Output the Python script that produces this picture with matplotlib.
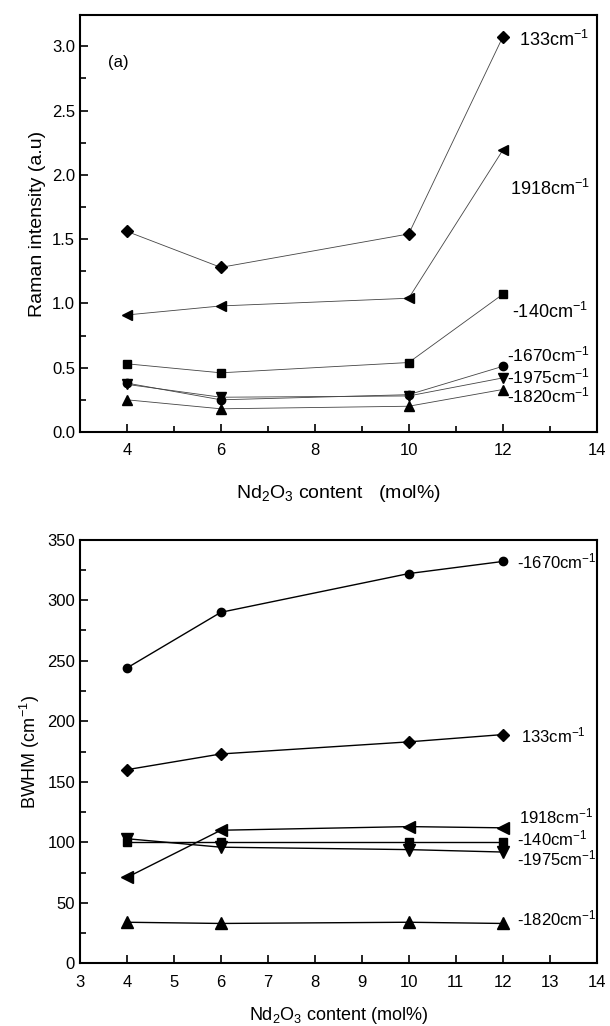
import matplotlib
matplotlib.use("Agg")
import matplotlib.pyplot as plt
from matplotlib.ticker import MultipleLocator

plt.rcParams['font.family'] = ['Liberation Sans', 'DejaVu Sans']
plt.rcParams['mathtext.fontset'] = 'custom'
plt.rcParams['mathtext.rm'] = 'Liberation Sans'
plt.rcParams['mathtext.it'] = 'Liberation Sans'
plt.rcParams['mathtext.default'] = 'rm'

x = [4, 6, 10, 12]

# (a) Raman intensity
int_133 = [1.56, 1.28, 1.54, 3.07]
int_1918 = [0.91, 0.98, 1.04, 2.19]
int_140 = [0.53, 0.46, 0.54, 1.07]
int_1670 = [0.38, 0.25, 0.29, 0.51]
int_1975 = [0.37, 0.27, 0.28, 0.42]
int_1820 = [0.25, 0.18, 0.20, 0.33]

# (b) BWHM
bw_1670 = [244, 290, 322, 332]
bw_133 = [160, 173, 183, 189]
bw_1918 = [71, 110, 113, 112]
bw_140 = [100, 100, 100, 100]
bw_1975 = [103, 96, 94, 92]
bw_1820 = [34, 33, 34, 33]

fig = plt.figure(figsize=(6.1, 10.26), dpi=100)
ax1 = fig.add_axes([0.131, 0.579, 0.847, 0.406])
ax2 = fig.add_axes([0.131, 0.061, 0.847, 0.413])

# top panel: thin grey lines
lw1 = 0.6
ax1.plot(x, int_133, color='#444444', lw=lw1, marker='D', ms=6, mfc='k', mec='k')
ax1.plot(x, int_1918, color='#444444', lw=lw1, marker='<', ms=7, mfc='k', mec='k')
ax1.plot(x, int_140, color='#444444', lw=lw1, marker='s', ms=6, mfc='k', mec='k')
ax1.plot(x, int_1670, color='#444444', lw=lw1, marker='o', ms=6, mfc='k', mec='k')
ax1.plot(x, int_1975, color='#444444', lw=lw1, marker='v', ms=7, mfc='k', mec='k')
ax1.plot(x, int_1820, color='#444444', lw=lw1, marker='^', ms=7, mfc='k', mec='k')

fs = 13
ax1.text(12.35, 3.05, '133cm$^{-1}$', fontsize=fs, va='center')
ax1.text(12.15, 1.89, '1918cm$^{-1}$', fontsize=fs, va='center')
ax1.text(12.2, 0.93, '-140cm$^{-1}$', fontsize=fs, va='center')
ax1.text(12.1, 0.60, '-1670cm$^{-1}$', fontsize=12.5, va='center')
ax1.text(12.1, 0.435, '-1975cm$^{-1}$', fontsize=12.5, va='center')
ax1.text(12.1, 0.285, '-1820cm$^{-1}$', fontsize=12.5, va='center')
ax1.text(3.6, 2.87, '(a)', fontsize=12, va='center')

ax1.set_xlim(3, 14)
ax1.set_ylim(0, 3.24)
ax1.xaxis.set_major_locator(MultipleLocator(2))
ax1.xaxis.set_minor_locator(MultipleLocator(1))
ax1.yaxis.set_major_locator(MultipleLocator(0.5))
ax1.yaxis.set_minor_locator(MultipleLocator(0.25))
ax1.yaxis.set_major_formatter(plt.FormatStrFormatter('%.1f'))
ax1.set_ylabel('Raman intensity (a.u)', fontsize=14)
ax1.set_xlabel('Nd$_2$O$_3$ content   (mol%)', fontsize=14, labelpad=18)

# bottom panel
lw2 = 1.0
ax2.plot(x, bw_1670, color='k', lw=lw2, marker='o', ms=6)
ax2.plot(x, bw_133, color='k', lw=lw2, marker='D', ms=6)
ax2.plot(x, bw_1918, color='k', lw=lw2, marker='<', ms=8)
ax2.plot(x, bw_140, color='k', lw=lw2, marker='s', ms=6)
ax2.plot(x, bw_1975, color='k', lw=lw2, marker='v', ms=8)
ax2.plot(x, bw_1820, color='k', lw=lw2, marker='^', ms=8)

fs2 = 12
ax2.text(12.3, 332, '-1670cm$^{-1}$', fontsize=fs2, va='center')
ax2.text(12.4, 188, '133cm$^{-1}$', fontsize=fs2, va='center')
ax2.text(12.35, 121, '1918cm$^{-1}$', fontsize=fs2, va='center')
ax2.text(12.3, 103, '-140cm$^{-1}$', fontsize=fs2, va='center')
ax2.text(12.3, 87, '-1975cm$^{-1}$', fontsize=fs2, va='center')
ax2.text(12.3, 37, '-1820cm$^{-1}$', fontsize=fs2, va='center')

ax2.set_xlim(3, 14)
ax2.set_ylim(0, 350)
ax2.xaxis.set_major_locator(MultipleLocator(1))
ax2.yaxis.set_major_locator(MultipleLocator(50))
ax2.yaxis.set_minor_locator(MultipleLocator(25))
ax2.set_ylabel('BWHM (cm$^{-1}$)', fontsize=13)
ax2.set_xlabel('Nd$_2$O$_3$ content (mol%)', fontsize=13, labelpad=11)

for ax in (ax1, ax2):
    for s in ax.spines.values():
        s.set_linewidth(1.5)
    ax.tick_params(which='both', direction='in', width=1.2, labelsize=12)
    ax.tick_params(which='major', length=6)
    ax.tick_params(which='minor', length=4)
    ax.tick_params(axis='x', pad=8)

fig.savefig('out.png', dpi=100)
